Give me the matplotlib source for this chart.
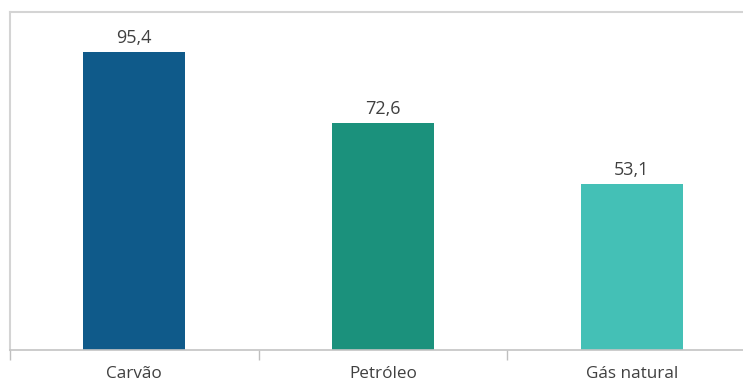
import matplotlib
matplotlib.use("Agg")
import matplotlib.pyplot as plt

categories = ["Carvão", "Petróleo", "Gás natural"]
values = [95.4, 72.6, 53.1]
value_labels = ["95,4", "72,6", "53,1"]
colors = ["#0f5a8a", "#1b917c", "#44c0b6"]

plt.rcParams['font.family'] = ['Open Sans', 'DejaVu Sans']

W, H = 743, 383
fig = plt.figure(figsize=(W / 100, H / 100), dpi=100)
x0, x1 = 10, 756
y_top, y_bot = 11.5, 350
ax = fig.add_axes([x0 / W, (H - y_bot) / H, (x1 - x0) / W, (y_bot - y_top) / H])

pos = list(range(len(categories)))
bars = ax.bar(pos, values, width=0.41, color=colors, zorder=2)
ax.set_xlim(-0.5, len(categories) - 0.5)
ax.set_ylim(0, 108.4)

for p, v, lab in zip(pos, values, value_labels):
    ax.annotate(lab, (p, v), xytext=(0, 4), textcoords="offset points",
                ha="center", va="bottom", fontsize=13, color="#404040")

ax.set_yticks([])
ax.set_xticks([-0.5, 0.5, 1.5, 2.5], minor=True)
ax.set_xticks(pos)
ax.set_xticklabels(categories, fontsize=12.3, color="#404040")
ax.tick_params(axis="x", which="major", length=0, pad=11.5)
ax.tick_params(axis="x", which="minor", length=7, width=1, color="#bfbfbf")

for side in ["top", "left"]:
    ax.spines[side].set_color("#d4d4d4")
    ax.spines[side].set_linewidth(1.5)
ax.spines["right"].set_visible(False)
ax.spines["bottom"].set_color("#c4c4c4")
ax.spines["bottom"].set_linewidth(1.2)

fig.savefig("out.png", dpi=100)
